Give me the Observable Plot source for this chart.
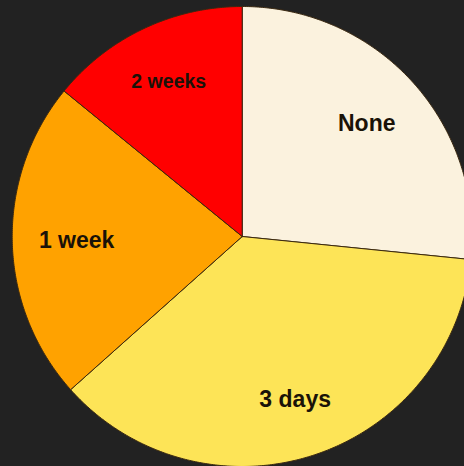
<!DOCTYPE html>
<html>
<head>
<meta charset="utf-8">
<script src="https://cdn.jsdelivr.net/npm/d3@7"></script>
<script src="https://cdn.jsdelivr.net/npm/@observablehq/plot@0.6"></script>
<style>
  html, body { margin: 0; padding: 0; background: #222222; overflow: hidden; }
  #chart { width: 464px; height: 466px; }
</style>
</head>
<body>
<div id="chart"></div>
<script>
// Data
const categories = ["None", "3 days", "1 week", "2 weeks"];
const values = [26.6, 36.8, 22.5, 14.1];
const colors = ["#FBF2DE", "#FDE457", "#FFA200", "#FF0000"];
const labelSizes = [23, 23, 23, 19.5];
const labelRadius = [0.73, 0.745, 0.72, 0.745];

// Build pie geometry with d3.pie (angles clockwise from 12 o'clock)
const arcs = d3.pie().sort(null).value(d => d)(values);
const slicePoints = [];
const labels = [];
arcs.forEach((a, i) => {
  const name = categories[i];
  slicePoints.push({ name, x: 0, y: 0 });
  const n = Math.max(2, Math.ceil((a.endAngle - a.startAngle) / (Math.PI / 360)));
  for (let k = 0; k <= n; k++) {
    const t = a.startAngle + (a.endAngle - a.startAngle) * k / n;
    slicePoints.push({ name, x: Math.sin(t), y: Math.cos(t) });
  }
  slicePoints.push({ name, x: 0, y: 0 });
  const mid = (a.startAngle + a.endAngle) / 2;
  const r = labelRadius[i];
  labels.push({ name, x: r * Math.sin(mid), y: r * Math.cos(mid), size: labelSizes[i] });
});

const W = 464, H = 466, R = 230, CX = 241.7, CY = 236;

const chart = Plot.plot({
  width: W,
  height: H,
  margin: 0,
  style: { background: "#222222", overflow: "hidden" },
  x: { domain: [-CX / R, (W - CX) / R], axis: null },
  y: { domain: [-(H - CY) / R, CY / R], axis: null },
  color: { domain: categories, range: colors },
  marks: [
    Plot.line(slicePoints, {
      x: "x", y: "y", z: "name",
      fill: "name",
      stroke: "#3a2810",
      strokeWidth: 1,
      strokeLinejoin: "round",
      clip: true
    }),
    ...labels.map(l => Plot.text([l], {
      x: "x", y: "y", text: "name",
      fontSize: l.size,
      fontWeight: "bold",
      fontFamily: "Liberation Sans, Arial, sans-serif",
      fill: "#1a1208"
    }))
  ]
});
document.getElementById("chart").appendChild(chart);
</script>
</body>
</html>
